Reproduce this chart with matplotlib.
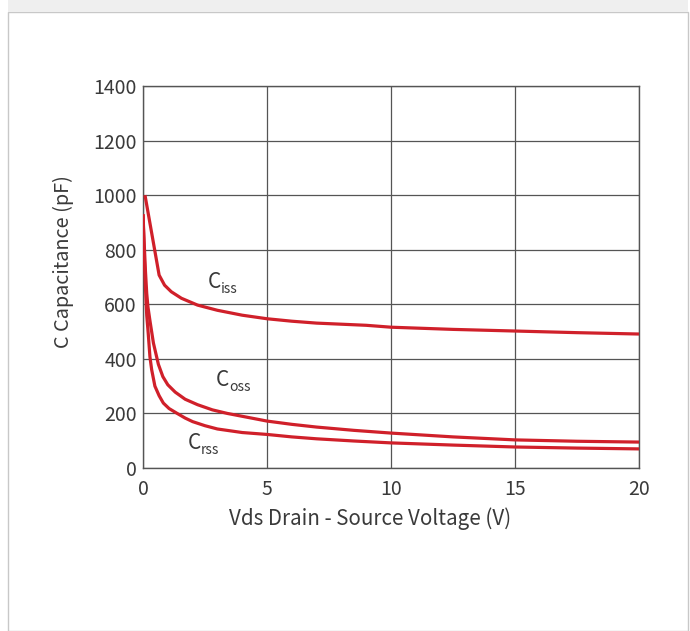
import matplotlib
matplotlib.use("Agg")
import matplotlib.pyplot as plt
from matplotlib.patches import Rectangle
from matplotlib.transforms import offset_copy

plt.rcParams['font.family'] = ['Noto Sans CJK SC', 'DejaVu Sans']

# capacitance vs drain-source voltage (pF)
ciss_v = [0.08, 0.65, 0.87, 1.14, 1.55, 2.2, 3.0, 4.0, 5.0, 6.0, 7.0, 8.0, 9.0, 10.0, 12.5, 15.0, 17.5, 20.0]
ciss_c = [1000, 707, 670, 646, 622, 597, 578, 560, 547, 538, 531, 527, 523, 516, 508, 502, 496, 491]

coss_v = [0.0, 0.05, 0.1, 0.15, 0.2, 0.28, 0.42, 0.62, 0.8, 1.0, 1.3, 1.7, 2.2, 2.8, 3.4, 4.2, 5.0,
          6.0, 7.0, 8.5, 10.0, 12.5, 15.0, 17.5, 20.0]
coss_c = [930, 820, 720, 640, 590, 540, 458, 380, 335, 305, 278, 252, 232, 213, 200, 186, 172,
          160, 150, 138, 128, 114, 103, 98, 95]

crss_v = [0.0, 0.05, 0.1, 0.15, 0.21, 0.28, 0.35, 0.48, 0.65, 0.82, 1.05, 1.36, 1.7, 2.0, 2.5, 3.0,
          4.0, 5.0, 6.0, 7.0, 8.5, 10.0, 12.5, 15.0, 17.5, 20.0]
crss_c = [930, 780, 660, 560, 494, 407, 360, 300, 265, 238, 218, 201, 183, 170, 155, 143,
          130, 123, 114, 107, 99, 92, 84, 77, 73, 70]

x_ticks = [0, 5, 10, 15, 20]
y_ticks = [0, 200, 400, 600, 800, 1000, 1200, 1400]

red = '#d0202a'
grid_c = '#555555'
text_c = '#3a3a3a'

fig = plt.figure(figsize=(6.9, 6.31), dpi=100)

# page frame
fig.patches.append(Rectangle((8 / 690, 0), 680 / 690, 1 - 12 / 631, transform=fig.transFigure,
                             facecolor='white', edgecolor='#c8c8c8', lw=1.0, zorder=-10))
fig.patches.append(Rectangle((8 / 690, 1 - 12 / 631), 680 / 690, 12 / 631, transform=fig.transFigure,
                             facecolor='#efefef', edgecolor='none', zorder=-10))

ax = fig.add_axes([143 / 690, 163 / 631, 496 / 690, 382 / 631])
ax.set_facecolor('white')

for vs, cs in [(ciss_v, ciss_c), (coss_v, coss_c), (crss_v, crss_c)]:
    ax.plot(vs, cs, color=red, lw=2.3, solid_capstyle='butt', solid_joinstyle='round', zorder=3)

ax.set_xlim(0, 20)
ax.set_ylim(0, 1400)
ax.set_xticks(x_ticks)
ax.set_yticks(y_ticks)
ax.grid(True, color=grid_c, lw=0.9)
ax.set_axisbelow(True)
for s in ax.spines.values():
    s.set_color(grid_c)
    s.set_linewidth(1.0)
ax.tick_params(length=0, labelsize=14, colors=text_c)
ax.tick_params(axis='y', pad=4.5)
ax.tick_params(axis='x', pad=8)
for lab in ax.get_xticklabels() + ax.get_yticklabels():
    lab.set_fontweight('light')

ax.set_xlabel('Vds Drain - Source Voltage (V)', fontsize=14.8, color=text_c, fontweight='light')
ax.xaxis.set_label_coords(0.457, -0.102)
ax.set_ylabel('C Capacitance (pF)', fontsize=14.3, color=text_c, fontweight='light')
ax.yaxis.set_label_coords(-0.139, 0.54)

# curve names with subscripts
for x, y, sub in [(2.6, 660, 'iss'), (2.95, 300, 'oss'), (1.82, 68, 'rss')]:
    ax.text(x, y, 'C', fontsize=15, color=text_c, ha='left', va='baseline', fontweight='light')
    tr = offset_copy(ax.transData, fig=fig, x=13, y=-5, units='dots')
    ax.text(x, y, sub, fontsize=10, color=text_c, ha='left', va='baseline',
            fontweight='light', transform=tr)

fig.savefig('out.png', dpi=100)
